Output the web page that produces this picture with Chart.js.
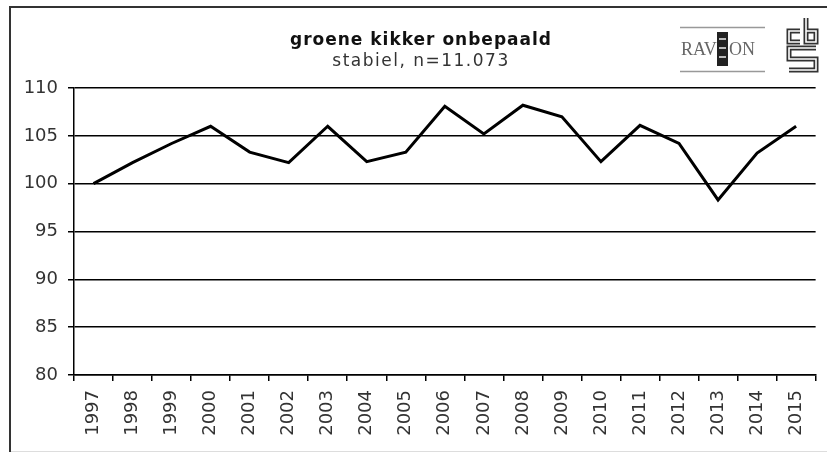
<!DOCTYPE html>
<html>
<head>
<meta charset="utf-8">
<script src="https://cdn.jsdelivr.net/npm/chart.js@4"></script>
<style>
  html, body { margin: 0; padding: 0; background: #fff; }
  #wrap { width: 827px; height: 458px; }
</style>
</head>
<body>
<div id="wrap"><canvas id="chart" width="827" height="458"></canvas></div>
<script>
// data
const years = ['1997', '1998', '1999', '2000', '2001', '2002', '2003', '2004', '2005', '2006',
               '2007', '2008', '2009', '2010', '2011', '2012', '2013', '2014', '2015'];
const indexValues = [100.0, 102.2, 104.2, 106.0, 103.3, 102.2, 106.0, 102.3, 103.3, 108.1,
                     105.2, 108.2, 107.0, 102.3, 106.1, 104.2, 98.3, 103.2, 106.0];
const yTicks = [80, 85, 90, 95, 100, 105, 110];
const titleText = 'groene kikker onbepaald';
const subtitleText = 'stabiel, n=11.073';

// frame, title and the two logos
const decorPlugin = {
    id: 'decor',
    beforeDraw(chart) {
        const c = chart.ctx;
        c.save();
        c.fillStyle = '#fff';
        c.fillRect(0, 0, chart.width, chart.height);
        c.restore();
    },
    afterDraw(chart) {
        const c = chart.ctx;
        c.save();
        // frame
        c.strokeStyle = '#333';
        c.lineWidth = 2;
        c.beginPath();
        c.moveTo(10, 452);
        c.lineTo(10, 7);
        c.lineTo(827, 7);
        c.stroke();
        c.strokeStyle = '#ddd';
        c.lineWidth = 1;
        c.beginPath();
        c.moveTo(11, 451.5);
        c.lineTo(827, 451.5);
        c.stroke();

        // title
        c.fillStyle = '#111';
        c.textAlign = 'center';
        c.textBaseline = 'middle';
        c.letterSpacing = '1px';
        c.font = 'bold 17px "DejaVu Sans"';
        c.fillText(titleText, 421, 41);
        c.fillStyle = '#333';
        c.letterSpacing = '1.5px';
        c.font = '17px "DejaVu Sans"';
        c.fillText(subtitleText, 421, 62);
        c.letterSpacing = '0px';

        // RAVON logo
        c.strokeStyle = '#999';
        c.lineWidth = 1.5;
        c.beginPath();
        c.moveTo(680, 27.5); c.lineTo(765, 27.5);
        c.moveTo(680, 71.5); c.lineTo(765, 71.5);
        c.stroke();
        c.fillStyle = '#666';
        c.font = '18px "Liberation Serif"';
        c.textAlign = 'left';
        c.fillText('RAV', 681, 50);
        c.fillText('ON', 729, 50);
        c.fillStyle = '#222';
        c.fillRect(717, 32, 11, 34);
        c.fillStyle = '#bbb';
        c.fillRect(719, 38, 7, 2);
        c.fillRect(719, 47, 7, 2);
        c.fillRect(719, 56, 7, 2);

        // cbs logo: thick dark stroke with a thin white core gives the outline look
        const paths = [
            [[800, 31], [789, 31], [789, 42], [800, 42]],
            [[806, 18], [806, 42], [816, 42], [816, 31], [806, 31]],
            [[816, 48], [789, 48], [789, 59], [816, 59], [816, 70], [789, 70]]
        ];
        [[5, '#333'], [1.6, '#fff']].forEach(([w, col]) => {
            c.strokeStyle = col;
            c.lineWidth = w;
            c.lineJoin = 'miter';
            paths.forEach(p => {
                c.beginPath();
                p.forEach(([x, y], i) => i ? c.lineTo(x, y) : c.moveTo(x, y));
                c.stroke();
            });
        });
        c.restore();
    }
};

new Chart(document.getElementById('chart'), {
    type: 'line',
    data: {
        labels: years,
        datasets: [{
            data: indexValues,
            borderColor: '#000',
            borderWidth: 3,
            pointRadius: 0,
            tension: 0,
            fill: false
        }]
    },
    options: {
        responsive: false,
        animation: false,
        layout: { padding: { top: 88, right: 11, left: 0, bottom: 0 } },
        plugins: {
            legend: { display: false },
            tooltip: { enabled: false }
        },
        scales: {
            x: {
                offset: true,
                grid: {
                    offset: true,
                    drawOnChartArea: false,
                    drawTicks: true,
                    tickLength: 6,
                    color: '#000',
                    lineWidth: 1.5
                },
                border: { color: '#000', width: 1.5 },
                ticks: {
                    minRotation: 90,
                    maxRotation: 90,
                    autoSkip: false,
                    padding: 9,
                    color: '#333',
                    font: { family: 'DejaVu Sans', size: 18 }
                },
                afterFit(axis) { axis.height = 83; }
            },
            y: {
                min: 80,
                max: 110,
                afterBuildTicks(axis) { axis.ticks = yTicks.map(v => ({ value: v })); },
                grid: {
                    color: '#000',
                    lineWidth: 1.5,
                    tickLength: 6
                },
                border: { color: '#000', width: 1.5 },
                ticks: {
                    padding: 10,
                    color: '#333',
                    font: { family: 'DejaVu Sans', size: 18 }
                },
                afterFit(axis) { axis.width = 74; }
            }
        }
    },
    plugins: [decorPlugin]
});
</script>
</body>
</html>
